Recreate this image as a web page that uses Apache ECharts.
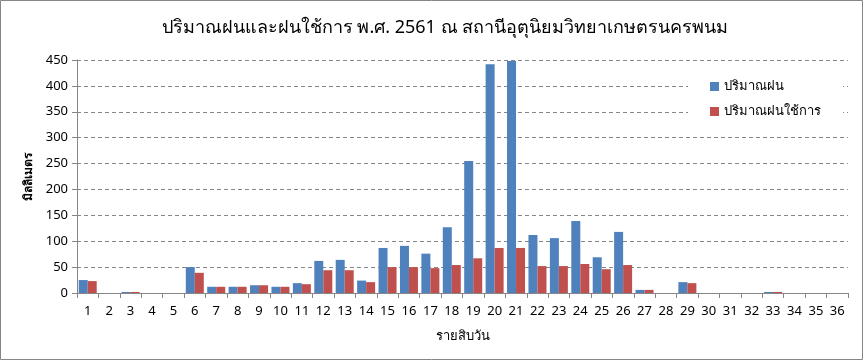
<!DOCTYPE html>
<html>
<head>
<meta charset="utf-8">
<script src="https://cdn.jsdelivr.net/npm/echarts@6/dist/echarts.min.js"></script>
<style>
html,body{margin:0;padding:0;background:#fff;}
#c{width:864px;height:361px;}
</style>
</head>
<body>
<div id="c"></div>
<script>
const categories = ['1','2','3','4','5','6','7','8','9','10','11','12','13','14','15','16','17','18','19','20','21','22','23','24','25','26','27','28','29','30','31','32','33','34','35','36'];
const rainfall = [25,0,2,0,0,50,12,12,15,12,19,62,64,24,87,91,76,127,255,442,448,112,106,139,69,118,6,0,21,0,0,0,2,0,0,0];
const effectiveRain = [23,0,2,0,0,39,12,12,15,12,17,44,44,21,50,50,48,54,67,87,87,52,52,56,46,54,6,0,19,0,0,0,2,0,0,0];
const yTicks = [0,50,100,150,200,250,300,350,400,450];

const FONT = 'Tahoma, "Noto Sans", "DejaVu Sans", sans-serif';
const chart = echarts.init(document.getElementById('c'));
chart.setOption({
  animation: false,
  backgroundColor: '#fff',
  textStyle: {fontFamily: FONT},
  graphic: [{
    type: 'rect', shape: {x: 0.5, y: 0.5, width: 862, height: 359},
    style: {fill: 'none', stroke: '#868686', lineWidth: 1}, z: 100
  }],
  title: {
    text: 'ปริมาณฝนและฝนใช้การ พ.ศ. 2561 ณ สถานีอุตุนิยมวิทยาเกษตรนครพนม',
    left: 440, top: 14, textAlign: 'center',
    textStyle: {fontSize: 18, fontWeight: 'normal', color: '#000', fontFamily: FONT}
  },
  legend: {
    orient: 'vertical', left: 688, top: 74,
    itemWidth: 9, itemHeight: 9, itemGap: 12,
    icon: 'rect',
    backgroundColor: '#fff',
    padding: [6, 22, 6, 22],
    textStyle: {fontSize: 13, color: '#000', fontFamily: FONT},
    data: ['ปริมาณฝน', 'ปริมาณฝนใช้การ']
  },
  grid: {left: 77, right: 16, top: 60, bottom: 68, containLabel: false},
  xAxis: {
    type: 'category', data: categories,
    name: 'รายสิบวัน', nameLocation: 'middle', nameGap: 37,
    nameTextStyle: {fontSize: 13, color: '#000', fontFamily: FONT},
    axisLine: {lineStyle: {color: '#868686'}},
    axisTick: {show: true, length: 5, lineStyle: {color: '#868686'}, alignWithLabel: false},
    axisLabel: {color: '#000', fontSize: 13, margin: 12, interval: 0, fontFamily: FONT}
  },
  yAxis: {
    type: 'value', min: 0, max: 450, interval: 50,
    name: 'มิลลิเมตร', nameLocation: 'middle', nameGap: 41, nameRotate: 90,
    nameTextStyle: {fontSize: 12, color: '#000', fontWeight: 'bold', fontFamily: FONT},
    axisLine: {show: true, lineStyle: {color: '#868686'}},
    axisTick: {show: true, length: 5, lineStyle: {color: '#868686'}},
    axisLabel: {color: '#000', fontSize: 13, margin: 9, fontFamily: FONT,
      formatter: v => yTicks.includes(v) ? String(v) : ''},
    splitLine: {show: true, lineStyle: {color: '#868686', type: [4, 3]}}
  },
  series: [
    {name: 'ปริมาณฝน', type: 'bar', data: rainfall, barWidth: 9, barGap: '0%',
      itemStyle: {color: '#4F81BD'}},
    {name: 'ปริมาณฝนใช้การ', type: 'bar', data: effectiveRain, barWidth: 9, barGap: '0%',
      itemStyle: {color: '#C0504D'}}
  ]
});
</script>
</body>
</html>
